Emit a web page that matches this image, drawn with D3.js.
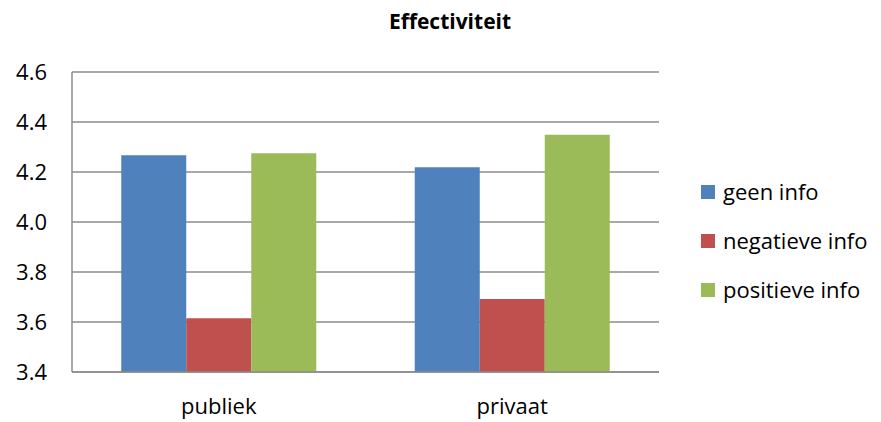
<!DOCTYPE html>
<html>
<head>
<meta charset="utf-8">
<script src="https://cdn.jsdelivr.net/npm/d3@7"></script>
<style>
  body { margin: 0; background: #fff; }
  svg { font-family: "Open Sans", "Noto Sans", sans-serif; }
</style>
</head>
<body>
<svg></svg>
<script>
let categories = ["publiek", "privaat"];
let series = ["geen info", "negatieve info", "positieve info"];
let colors = ["#4F81BD", "#C0504D", "#9BBB59"];
// values per series, in category order
let geenInfo = [4.267, 4.219];
let negatieveInfo = [3.615, 3.692];
let positieveInfo = [4.275, 4.349];
let yTicks = [3.4, 3.6, 3.8, 4.0, 4.2, 4.4, 4.6];

let values = [geenInfo, negatieveInfo, positieveInfo];

let width = 881;
let height = 422;
let plotLeft = 72, plotRight = 659, plotTop = 72, plotBottom = 372;

let svg = d3.select("svg")
    .attr("width", width)
    .attr("height", height);

let yScale = d3.scaleLinear()
    .domain([3.4, 4.6])
    .range([plotBottom, plotTop]);

let xScale = d3.scaleBand()
    .domain(categories)
    .range([plotLeft, plotRight])
    .paddingInner(0.3356)
    .paddingOuter(0.1678);

let xInner = d3.scaleBand()
    .domain(series)
    .range([0, xScale.bandwidth()]);

// gridlines
svg.append("g")
    .selectAll("line")
    .data(yTicks)
    .enter()
    .append("line")
    .attr("x1", plotLeft)
    .attr("x2", plotRight)
    .attr("y1", (d) => yScale(d))
    .attr("y2", (d) => yScale(d))
    .attr("stroke", "#8c8c8c")
    .attr("stroke-width", 1.5);

// left axis line
svg.append("line")
    .attr("x1", plotLeft)
    .attr("x2", plotLeft)
    .attr("y1", plotTop)
    .attr("y2", plotBottom)
    .attr("stroke", "#8c8c8c")
    .attr("stroke-width", 1.5);

// bars
series.forEach((s, si) => {
    svg.append("g")
        .selectAll("rect")
        .data(categories)
        .enter()
        .append("rect")
        .attr("x", (c) => xScale(c) + xInner(s))
        .attr("width", xInner.bandwidth())
        .attr("y", (c, i) => yScale(values[si][i]))
        .attr("height", (c, i) => plotBottom - yScale(values[si][i]))
        .attr("fill", colors[si]);
});

// bottom axis line on top of bars
svg.append("line")
    .attr("x1", plotLeft)
    .attr("x2", plotRight)
    .attr("y1", plotBottom)
    .attr("y2", plotBottom)
    .attr("stroke", "#8c8c8c")
    .attr("stroke-width", 1.5);

// y tick labels
svg.append("g")
    .selectAll("text")
    .data(yTicks)
    .enter()
    .append("text")
    .attr("x", 47)
    .attr("y", (d) => yScale(d))
    .attr("dy", "0.35em")
    .attr("text-anchor", "end")
    .style("font-size", "22px")
    .attr("fill", "#000")
    .text((d) => d.toFixed(1));

// category labels
svg.append("g")
    .selectAll("text")
    .data(categories)
    .enter()
    .append("text")
    .attr("x", (c) => xScale(c) + xScale.bandwidth() / 2)
    .attr("y", 406)
    .attr("dy", "0.35em")
    .attr("text-anchor", "middle")
    .style("font-size", "22px")
    .attr("fill", "#000")
    .text((c) => c);

// title
svg.append("text")
    .attr("x", 450)
    .attr("y", 22)
    .attr("dy", "0.35em")
    .attr("text-anchor", "middle")
    .style("font-size", "21px")
    .style("font-weight", "bold")
    .attr("fill", "#000")
    .text("Effectiviteit");

// legend
let legend = svg.append("g")
    .selectAll("g")
    .data(series)
    .enter()
    .append("g")
    .attr("transform", (s, i) => "translate(701," + (192 + i * 49) + ")");

legend.append("rect")
    .attr("x", 0)
    .attr("y", -7)
    .attr("width", 14)
    .attr("height", 14)
    .attr("fill", (s, i) => colors[i]);

legend.append("text")
    .attr("x", 22)
    .attr("y", 0)
    .attr("dy", "0.35em")
    .style("font-size", "22px")
    .attr("fill", "#000")
    .text((s) => s);
</script>
</body>
</html>
